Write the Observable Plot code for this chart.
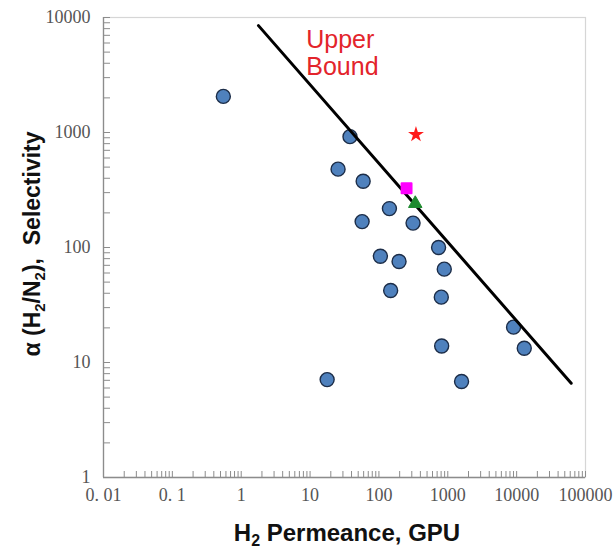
<!DOCTYPE html>
<html>
<head>
<meta charset="utf-8">
<script src="https://cdn.jsdelivr.net/npm/d3@7"></script>
<script src="https://cdn.jsdelivr.net/npm/@observablehq/plot@0.6"></script>
<style>
  html, body { margin: 0; padding: 0; background: #fff; }
  #chart svg { display: block; }
</style>
</head>
<body>
<div id="chart"></div>
<script>
// ---- data ----
const permeance = [0.55, 38, 25.5, 59, 142, 57, 313, 735, 105, 196, 889, 148, 805, 815, 17.7, 1585, 9020, 12900];
const selectivity = [2060, 920, 480, 377, 218, 168, 163, 100, 84, 75.5, 64.8, 42.3, 37.0, 13.9, 7.1, 6.84, 20.3, 13.3];

const starX = [345], starY = [961];
const squareX = [252], squareY = [328];
const triangleX = [337], triangleY = [241];

const boundX = [1.78, 62000];
const boundY = [8500, 6.6];

const boundLabel = ["Upper\nBound"];
const boundLabelX = [8.8];
const boundLabelY = [4900];

const xTicks = [0.01, 0.1, 1, 10, 100, 1000, 10000, 100000];
const xTickLabels = ["0. 01", "0. 1", "1", "10", "100", "1000", "10000", "100000"];
const yTicks = [1, 10, 100, 1000, 10000];
const yTickLabels = ["1", "10", "100", "1000", "10000"];

// minor tick positions (2..10 within each decade)
const xMinor = [];
for (let i = 0; i < xTicks.length - 1; i++) for (let k = 2; k <= 10; k++) xMinor.push(xTicks[i] * k);
const yMinor = [];
for (let i = 0; i < yTicks.length - 1; i++) for (let k = 2; k <= 10; k++) yMinor.push(yTicks[i] * k);

const points = permeance.map((x, i) => ({x, y: selectivity[i]}));
const bound = boundX.map((x, i) => ({x, y: boundY[i]}));
const idx = (arr, d) => arr.findIndex(t => Math.abs(Math.log10(t) - Math.log10(d)) < 1e-6);

const W = 613, H = 552, ML = 103, MR = 28, MT = 17, MB = 75;
const plotW = W - ML - MR, plotH = H - MT - MB;
const axisCol = "#8c8c8c";

const chart = Plot.plot({
  width: W, height: H,
  marginLeft: ML, marginRight: MR, marginTop: MT, marginBottom: MB,
  x: {type: "log", domain: [0.01, 100000]},
  y: {type: "log", domain: [1, 10000]},
  style: {background: "#fff", fontFamily: "Liberation Sans, Arial, sans-serif"},
  marks: [
    Plot.frame({stroke: "#d6d6d6", strokeWidth: 1.2}),
    Plot.tickX(xMinor, {x: d => d, stroke: axisCol, strokeWidth: 1, insetTop: plotH - 6}),
    Plot.tickY(yMinor, {y: d => d, stroke: axisCol, strokeWidth: 1, insetRight: plotW - 7}),
    Plot.ruleX([0.01], {stroke: axisCol, strokeWidth: 1.3}),
    Plot.ruleY([1], {stroke: axisCol, strokeWidth: 1.3}),
    Plot.axisX({
      ticks: xTicks, tickSize: 0, tickPadding: 11,
      tickFormat: d => xTickLabels[idx(xTicks, d)],
      fontSize: 18, fontFamily: "Liberation Serif, DejaVu Serif, serif",
      fill: "#555", label: null
    }),
    Plot.axisY({
      ticks: yTicks, tickSize: 0, tickPadding: 13,
      tickFormat: d => yTickLabels[idx(yTicks, d)],
      fontSize: 18, fontFamily: "Liberation Serif, DejaVu Serif, serif",
      fill: "#555", label: null
    }),
    Plot.dot(points, {x: "x", y: "y", r: 7, fill: "#4f81bd", stroke: "#1c2d48", strokeWidth: 1.4}),
    Plot.line(bound, {x: "x", y: "y", stroke: "#000", strokeWidth: 3}),
    Plot.dot(squareX.map((x, i) => ({x, y: squareY[i]})), {x: "x", y: "y", symbol: "square", r: 5.6, fill: "#ff00ff", stroke: "#ff00ff", strokeWidth: 2, strokeLinejoin: "round"}),
    Plot.dot(triangleX.map((x, i) => ({x, y: triangleY[i]})), {x: "x", y: "y", symbol: "triangle", r: 5, fill: "#1e8a2e", stroke: "#1e8a2e", strokeWidth: 1}),
    Plot.dot(starX.map((x, i) => ({x, y: starY[i]})), {x: "x", y: "y", symbol: "star", r: 5, fill: "#ff1a1a"}),
    Plot.text(boundLabel, {x: boundLabelX, y: boundLabelY, text: d => d, textAnchor: "start", lineAnchor: "middle", lineHeight: 1.08, fontSize: 25, fill: "#e3242b"})
  ]
});

const svg = d3.select(chart);
// x-axis title
const xt = svg.append("text")
  .attr("x", 347).attr("y", 541)
  .attr("text-anchor", "middle")
  .attr("font-family", "Liberation Sans, Arial, sans-serif")
  .attr("font-weight", "bold").attr("font-size", 24).attr("fill", "#111");
xt.append("tspan").text("H");
xt.append("tspan").attr("font-size", 16).attr("dy", 5).text("2");
xt.append("tspan").attr("dy", -5).text(" Permeance, GPU");

// y-axis title
const yt = svg.append("text")
  .attr("transform", "translate(40,244) rotate(-90)")
  .attr("text-anchor", "middle")
  .attr("font-family", "Liberation Sans, Arial, sans-serif")
  .attr("font-weight", "bold").attr("font-size", 23).attr("fill", "#111");
yt.append("tspan").text("α (H");
yt.append("tspan").attr("font-size", 15).attr("dy", 5).text("2");
yt.append("tspan").attr("dy", -5).text("/N");
yt.append("tspan").attr("font-size", 15).attr("dy", 5).text("2");
yt.append("tspan").attr("dy", -5).text("),\u00a0\u00a0Selectivity");

document.getElementById("chart").appendChild(chart);
</script>
</body>
</html>
